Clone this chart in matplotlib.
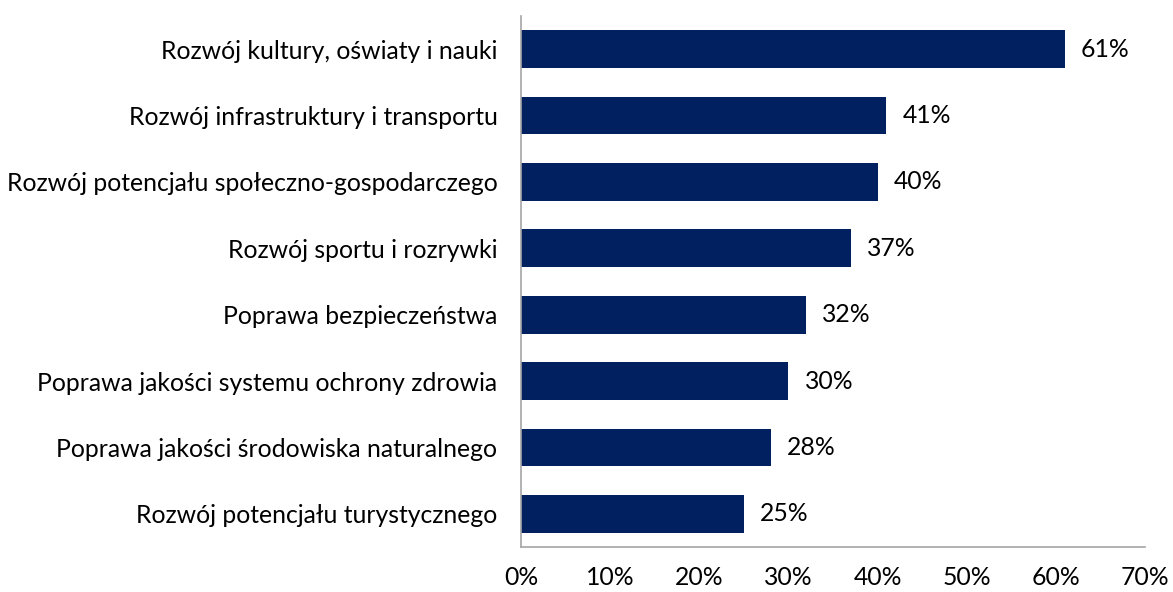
import numpy as np
import matplotlib.pyplot as plt
from matplotlib.ticker import FuncFormatter

# data (top to bottom)
categories = ['Rozwój kultury, oświaty i nauki',
              'Rozwój infrastruktury i transportu',
              'Rozwój potencjału społeczno-gospodarczego',
              'Rozwój sportu i rozrywki',
              'Poprawa bezpieczeństwa',
              'Poprawa jakości systemu ochrony zdrowia',
              'Poprawa jakości środowiska naturalnego',
              'Rozwój potencjału turystycznego']
values = [61, 41, 40, 37, 32, 30, 28, 25]
xticks = [0, 10, 20, 30, 40, 50, 60, 70]

plt.rcParams['font.family'] = ['Lato', 'DejaVu Sans']
fs = 17.8

fig = plt.figure(figsize=(11.73, 5.92), dpi=100)
ax = fig.add_axes([0.4442, 0.076, 0.5319, 0.897])

y = np.arange(len(categories))
ax.barh(y, values, height=0.57, color='#002060')

for yi, v in zip(y, values):
    ax.text(v + 1.8, yi, '%d%%' % v, va='center', ha='left', fontsize=fs, color='black')

ax.set_yticks(y)
ax.set_yticklabels(categories, fontsize=fs)
ax.set_ylim(len(categories) - 0.5, -0.5)
ax.set_xlim(0, 70)
ax.set_xticks(xticks)
ax.xaxis.set_major_formatter(FuncFormatter(lambda v, p: '%d%%' % v))
ax.tick_params(axis='x', length=0, pad=14, labelsize=fs)
ax.tick_params(axis='y', length=0, pad=17)

for s in ['top', 'right']:
    ax.spines[s].set_visible(False)
for s in ['left', 'bottom']:
    ax.spines[s].set_color('#a6a6a6')
    ax.spines[s].set_linewidth(1.2)

fig.savefig('out.png', dpi=100)
